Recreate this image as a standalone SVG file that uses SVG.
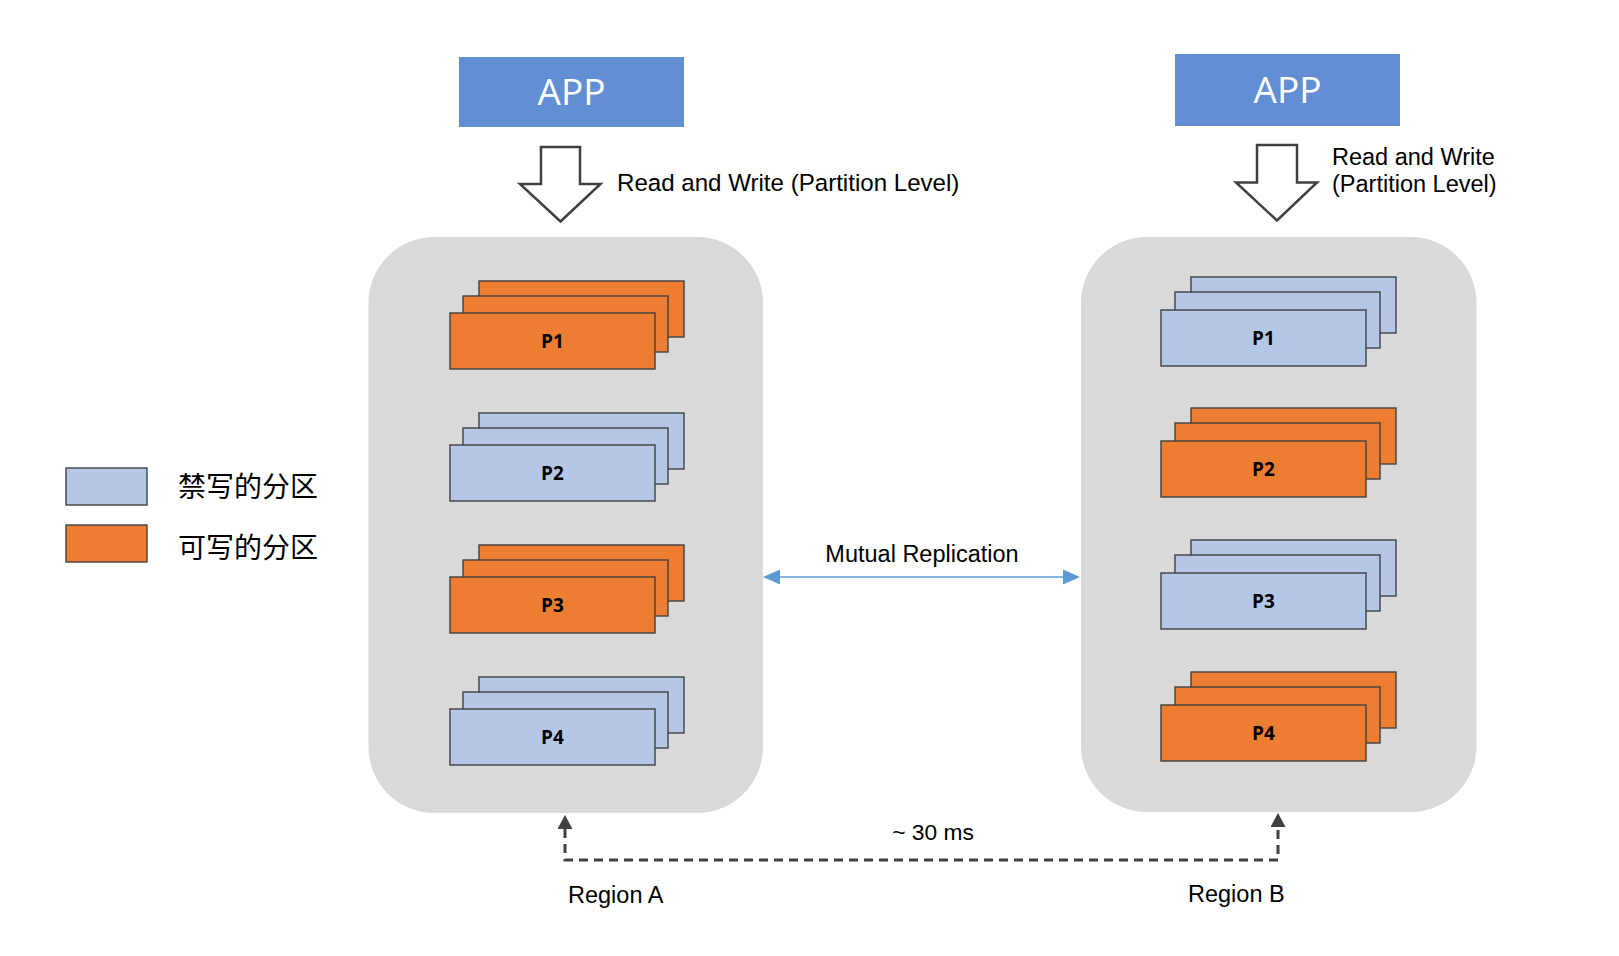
<svg xmlns="http://www.w3.org/2000/svg" width="1619" height="956" viewBox="0 0 1619 956">
<style>
.bg{fill:#ffffff}
.app{fill:#628FD3}
.apptxt{fill:#ffffff;font-family:"Open Sans","Noto Sans",sans-serif;font-size:37px;text-anchor:middle}
.hollow{fill:#ffffff;stroke:#404040;stroke-width:2.5;stroke-linejoin:miter}
.lbl{fill:#000000;font-family:"Liberation Sans",Arial,sans-serif;font-size:23.5px}
.lblA{font-size:24.1px}
.lat-lbl{font-size:22.8px}
.region{fill:#d9d9d9}
.or{fill:#ED7D31;stroke:#404040;stroke-width:1.4}
.bl{fill:#B4C7E7;stroke:#404040;stroke-width:1.4}
.ptxt{fill:#000000;font-family:"Open Sans","Noto Sans",sans-serif;font-weight:700;font-size:19px;text-anchor:middle}
.leg{fill:#000000;font-family:"Noto Sans CJK SC","Noto Sans",sans-serif;font-size:28px}
.rep{fill:none;stroke:#5B9BD5;stroke-width:1.6}
.lat{fill:none;stroke:#404040;stroke-width:3;stroke-dasharray:9 6}
</style>
<defs>
<marker id="ahBlue" viewBox="0 0 17 15" refX="0" refY="7.5" markerWidth="17" markerHeight="15" markerUnits="userSpaceOnUse" orient="auto-start-reverse">
<path d="M0,0 L17,7.5 L0,15 z" fill="#5B9BD5"/>
</marker>
<marker id="ahDark" viewBox="0 0 14 15" refX="0" refY="7.5" markerWidth="14" markerHeight="15" markerUnits="userSpaceOnUse" orient="auto-start-reverse">
<path d="M0,0 L14,7.5 L0,15 z" fill="#404040"/>
</marker>
</defs>
<rect class="bg" x="0" y="0" width="1619" height="956"/>

<g id="appA">
<rect class="app" x="459" y="57" width="225" height="70"/>
<text class="apptxt" x="571.5" y="105">APP</text>
</g>
<g id="appB">
<rect class="app" x="1175" y="54" width="225" height="72"/>
<text class="apptxt" x="1287.5" y="103">APP</text>
</g>

<g id="rwA">
<path class="hollow" d="M541,147 H580 V184 H600.5 L560.5,221.5 L520,184 H541 Z"/>
<text class="lbl lblA" x="617" y="191">Read and Write (Partition Level)</text>
</g>
<g id="rwB">
<path class="hollow" d="M1257,145 H1297 V182.5 H1317 L1277,220.5 L1236,182.5 H1257 Z"/>
<text class="lbl" x="1332" y="165">Read and Write</text>
<text class="lbl" x="1332" y="192">(Partition Level)</text>
</g>

<g id="regionA">
<rect class="region" x="368.5" y="237" width="394.5" height="576" rx="66" ry="66"/>
</g>
<g id="regionB">
<rect class="region" x="1081" y="237" width="395.5" height="575" rx="66" ry="66"/>
</g>

<g id="A-P1" transform="translate(450,313)">
<rect class="or" x="29" y="-32" width="205" height="56"/>
<rect class="or" x="13" y="-17" width="205" height="56"/>
<rect class="or" x="0" y="0" width="205" height="56"/>
<text class="ptxt" x="102.5" y="35">P1</text>
</g>
<g id="A-P2" transform="translate(450,445)">
<rect class="bl" x="29" y="-32" width="205" height="56"/>
<rect class="bl" x="13" y="-17" width="205" height="56"/>
<rect class="bl" x="0" y="0" width="205" height="56"/>
<text class="ptxt" x="102.5" y="35">P2</text>
</g>
<g id="A-P3" transform="translate(450,577)">
<rect class="or" x="29" y="-32" width="205" height="56"/>
<rect class="or" x="13" y="-17" width="205" height="56"/>
<rect class="or" x="0" y="0" width="205" height="56"/>
<text class="ptxt" x="102.5" y="35">P3</text>
</g>
<g id="A-P4" transform="translate(450,709)">
<rect class="bl" x="29" y="-32" width="205" height="56"/>
<rect class="bl" x="13" y="-17" width="205" height="56"/>
<rect class="bl" x="0" y="0" width="205" height="56"/>
<text class="ptxt" x="102.5" y="35">P4</text>
</g>

<g id="B-P1" transform="translate(1161,310)">
<rect class="bl" x="30" y="-33" width="205" height="56"/>
<rect class="bl" x="14" y="-18" width="205" height="56"/>
<rect class="bl" x="0" y="0" width="205" height="56"/>
<text class="ptxt" x="102.5" y="35">P1</text>
</g>
<g id="B-P2" transform="translate(1161,441)">
<rect class="or" x="30" y="-33" width="205" height="56"/>
<rect class="or" x="14" y="-18" width="205" height="56"/>
<rect class="or" x="0" y="0" width="205" height="56"/>
<text class="ptxt" x="102.5" y="35">P2</text>
</g>
<g id="B-P3" transform="translate(1161,573)">
<rect class="bl" x="30" y="-33" width="205" height="56"/>
<rect class="bl" x="14" y="-18" width="205" height="56"/>
<rect class="bl" x="0" y="0" width="205" height="56"/>
<text class="ptxt" x="102.5" y="35">P3</text>
</g>
<g id="B-P4" transform="translate(1161,705)">
<rect class="or" x="30" y="-33" width="205" height="56"/>
<rect class="or" x="14" y="-18" width="205" height="56"/>
<rect class="or" x="0" y="0" width="205" height="56"/>
<text class="ptxt" x="102.5" y="35">P4</text>
</g>

<g id="legend">
<rect class="bl" x="66" y="468" width="81" height="37"/>
<text class="leg" x="178" y="497">禁写的分区</text>
<rect class="or" x="66" y="525" width="81" height="37"/>
<text class="leg" x="178" y="558">可写的分区</text>
</g>

<g id="connectors">
<path class="rep" d="M780,577 H1063" marker-start="url(#ahBlue)" marker-end="url(#ahBlue)"/>
<text class="lbl" x="922" y="562" text-anchor="middle">Mutual Replication</text>
<path class="lat" d="M565,829 V860 H1278 V827" marker-start="url(#ahDark)" marker-end="url(#ahDark)"/>
<text class="lbl lat-lbl" x="933" y="840" text-anchor="middle">~ 30 ms</text>
<text class="lbl" x="568" y="903">Region A</text>
<text class="lbl" x="1188" y="902">Region B</text>
</g>
</svg>
